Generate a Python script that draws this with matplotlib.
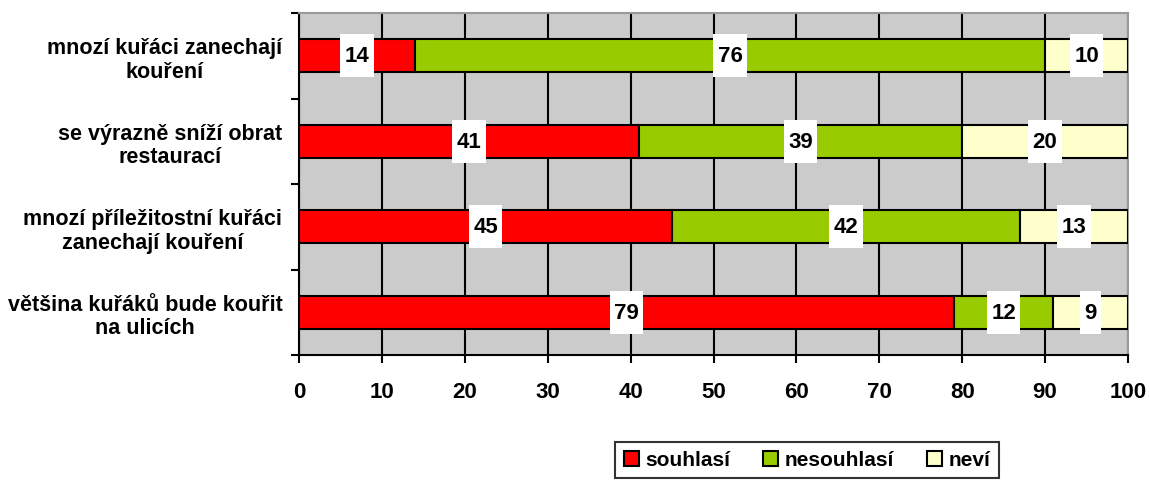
import matplotlib
matplotlib.use("Agg")
import matplotlib.pyplot as plt
from matplotlib.path import Path
import numpy as np

categories = ["mnozí kuřáci zanechají\nkouření",
              "se výrazně sníží obrat\nrestaurací",
              "mnozí příležitostní kuřáci\nzanechají kouření",
              "většina kuřáků bude kouřit\nna ulicích"]
souhlasi = [14, 41, 45, 79]
nesouhlasi = [76, 39, 42, 12]
nevi = [10, 20, 13, 9]
series_names = ["souhlasí", "nesouhlasí", "neví"]
colors = ["#FF0000", "#99CC00", "#FFFFCC"]
xticks = [0, 10, 20, 30, 40, 50, 60, 70, 80, 90, 100]


def label_box(x0, y0, width, height, mutation_size):
    px = 0.2 * mutation_size
    py = 0.5 * mutation_size
    x0, y0 = x0 - px, y0 - py
    x1, y1 = x0 + width + 2 * px, y0 + height + 2 * py
    return Path([(x0, y0), (x1, y0), (x1, y1), (x0, y1), (x0, y0)], closed=True)


plt.rcParams['font.family'] = ['Liberation Sans', 'DejaVu Sans']
fig = plt.figure(figsize=(11.5, 4.81), dpi=100)
ax = fig.add_axes([299/1150, 1-356/481, (1128-299)/1150, (356-14)/481])
ax.set_facecolor("#CBCBCB")

y = np.arange(len(categories))[::-1]
left = np.zeros(len(categories))
for vals, name, col in zip([souhlasi, nesouhlasi, nevi], series_names, colors):
    vals = np.array(vals, dtype=float)
    ax.barh(y, vals, left=left, height=0.39, color=col, edgecolor="black",
            linewidth=1.5, label=name, zorder=3)
    for yi, l, v in zip(y, left, vals):
        ax.text(l + v/2, yi, f"{int(v)}", ha="center", va="center", fontsize=16,
                fontweight="bold", zorder=5,
                bbox=dict(boxstyle=label_box, fc="white", ec="none"))
    left += vals

ax.set_xlim(0, 100)
ax.set_ylim(-0.5, len(categories)-0.5)
ax.set_xticks(xticks)
ax.set_xticklabels([str(t) for t in xticks], fontsize=16, fontweight="bold")
ax.xaxis.grid(True, color="black", linewidth=1.5, zorder=1)
ax.set_axisbelow(True)
ax.set_yticks(y)
ax.set_yticklabels(categories, fontsize=15.5, fontweight="bold", multialignment="center",
                   linespacing=1.15)
ax.tick_params(axis="y", length=0, pad=12)
ax.set_yticks(np.arange(-0.5, len(categories), 1), minor=True)
ax.tick_params(axis="y", which="minor", length=6, width=1.5, direction="out")
ax.tick_params(axis="x", length=6, width=1.5, direction="out", pad=13)
for s in ["left", "bottom"]:
    ax.spines[s].set_color("black")
    ax.spines[s].set_linewidth(1.5)
for s in ["top", "right"]:
    ax.spines[s].set_color("#999999")
    ax.spines[s].set_linewidth(1.5)

leg = fig.legend(loc="center", bbox_to_anchor=(807/1150, 1-461/481), ncol=3,
                 prop=dict(size=15, weight="bold"), frameon=True, fancybox=False,
                 edgecolor="black", handlelength=0.72, handleheight=0.72,
                 handletextpad=0.3, columnspacing=1.6, borderpad=0.4,
                 borderaxespad=0)
leg.get_frame().set_linewidth(1.5)
for h in leg.legend_handles:
    h.set_linewidth(1.5)

fig.savefig("out.png", dpi=100)
